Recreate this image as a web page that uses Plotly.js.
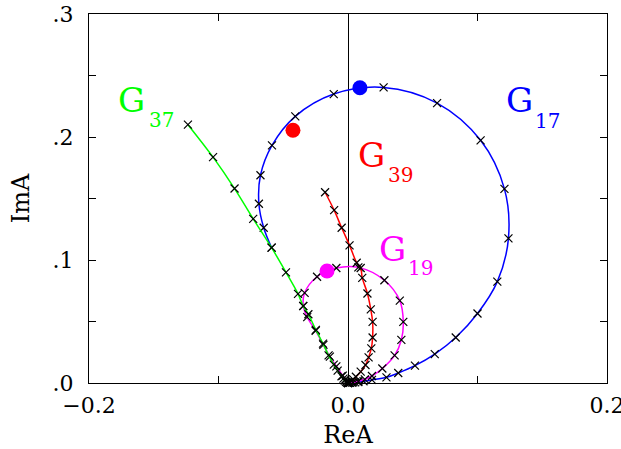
<!DOCTYPE html>
<html>
<head>
<meta charset="utf-8">
<script src="https://cdn.plot.ly/plotly-3.0.1.min.js"></script>
<style>html,body{margin:0;padding:0;background:#fff;}</style>
</head>
<body>
<div id="chart" style="width:621px;height:449px;"></div>
<script>
// G17 (blue) loop
const g17_re = [0.001, 0.003, 0.0055, 0.008, 0.012, 0.0185, 0.0297, 0.0388, 0.0517, 0.0670, 0.0832, 0.1000, 0.1153, 0.1239, 0.1208, 0.1024, 0.0688, 0.0275, -0.0110, -0.0407, -0.0587, -0.0676, -0.0688, -0.0651, -0.0590];
const g17_im = [0.0001, 0.0003, 0.0005, 0.0008, 0.0014, 0.0025, 0.0046, 0.0081, 0.0141, 0.0235, 0.0370, 0.0565, 0.0824, 0.1176, 0.1578, 0.1973, 0.2276, 0.2403, 0.2349, 0.2168, 0.1932, 0.1689, 0.1457, 0.1262, 0.1100];
// G37 (green)
const g37_re = [-0.1236, -0.1042, -0.0876, -0.0732, -0.0590, -0.0479, -0.0386, -0.0346, -0.0306, -0.0248, -0.0193, -0.0150, -0.0110, -0.0080, -0.0050, -0.0035, -0.0025, -0.0015, -0.0007, 0.0];
const g37_im = [0.2100, 0.1836, 0.1581, 0.1335, 0.1100, 0.0900, 0.0725, 0.0627, 0.0559, 0.0432, 0.0320, 0.0225, 0.0150, 0.0100, 0.0055, 0.0035, 0.0020, 0.0010, 0.0004, 0.0];
// G19 (magenta)
const g19_re = [0.0, -0.002, -0.004, -0.009, -0.014, -0.019, -0.025, -0.0315, -0.0345, -0.0335, -0.0239, -0.0090, 0.0080, 0.0281, 0.0400, 0.0427, 0.0412, 0.0360, 0.0265, 0.0185, 0.013, 0.008, 0.004, 0.0015];
const g19_im = [0.0, 0.003, 0.006, 0.0135, 0.0215, 0.031, 0.0425, 0.0535, 0.0625, 0.0733, 0.0864, 0.0935, 0.0940, 0.0835, 0.0670, 0.0497, 0.0350, 0.0225, 0.0118, 0.0057, 0.003, 0.0015, 0.0005, 0.0001];
// G39 (red)
const g39_re = [-0.0177, -0.0107, -0.0049, 0.0012, 0.0067, 0.0098, 0.0110, 0.0150, 0.0176, 0.0190, 0.0190, 0.0180, 0.0159, 0.0135, 0.0098, 0.0061, 0.0040, 0.0025, 0.0012, 0.0];
const g39_im = [0.1551, 0.1405, 0.1262, 0.1119, 0.0978, 0.0935, 0.0855, 0.0728, 0.0598, 0.0497, 0.0370, 0.0281, 0.0208, 0.0146, 0.0092, 0.0051, 0.0030, 0.0016, 0.0006, 0.0];
// highlighted points
const dot_re = [0.0092, -0.0425, -0.0162];
const dot_im = [0.2400, 0.2055, 0.0910];
const dot_colors = ['#0000ff', '#ff0000', '#ff00ff'];
// tick labels
const xTickVals = [-0.2, -0.1, 0, 0.1, 0.2];
const xTickText = ['\u22120.2', '', '0.0', '', '0.2'];
const yTickVals = [0, 0.05, 0.1, 0.15, 0.2, 0.25, 0.3];
const yTickText = ['.0', '', '.1', '', '.2', '', '.3'];

function curve(xs, ys, color) {
  return {
    x: xs, y: ys, type: 'scatter', mode: 'lines+markers',
    line: {color: color, width: 1.5, shape: 'spline', smoothing: 1},
    marker: {symbol: 'x-thin', size: 8, color: 'black', line: {color: 'black', width: 1.2}},
    hoverinfo: 'skip', showlegend: false, cliponaxis: false
  };
}

const traces = [
  curve(g17_re, g17_im, '#0000ff'),
  curve(g19_re, g19_im, '#ff00ff'),
  curve(g39_re, g39_im, '#ff0000'),
  curve(g37_re, g37_im, '#00ff00'),
  {x: dot_re, y: dot_im, type: 'scatter', mode: 'markers',
   marker: {size: 15, color: dot_colors}, showlegend: false, hoverinfo: 'skip'}
];

const serif = 'DejaVu Serif, serif';
function lab(text, x, y, size, color) {
  return {text: text, x: x, y: y, xref: 'x', yref: 'y', showarrow: false,
          xanchor: 'center', yanchor: 'middle', font: {family: serif, size: size, color: color}};
}

const layout = {
  width: 621, height: 449,
  margin: {l: 89, r: 14, t: 14, b: 66},
  paper_bgcolor: '#fff', plot_bgcolor: '#fff',
  font: {family: serif, size: 22, color: '#000'},
  xaxis: {
    range: [-0.2, 0.2], tickvals: xTickVals, ticktext: xTickText,
    ticks: 'inside', ticklen: 7, tickcolor: '#000', mirror: 'ticks',
    showline: true, linecolor: '#000', linewidth: 1, showgrid: false,
    zeroline: true, zerolinecolor: '#000', zerolinewidth: 1,
    ticklabeloverflow: 'allow', ticklabelstandoff: 3,
    title: {text: 'ReA', font: {family: serif, size: 24}, standoff: 10},
    tickfont: {family: serif, size: 22}
  },
  yaxis: {
    range: [0, 0.3], tickvals: yTickVals, ticktext: yTickText,
    ticks: 'inside', ticklen: 7, tickcolor: '#000', mirror: 'ticks',
    showline: true, linecolor: '#000', linewidth: 1, showgrid: false,
    zeroline: false, ticklabelstandoff: 10,
    title: {text: 'ImA', font: {family: serif, size: 24}, standoff: 16},
    tickfont: {family: serif, size: 22}
  },
  annotations: [
    lab('G', -0.1668, 0.2302, 34, '#00ff00'),
    lab('37', -0.1444, 0.2139, 20, '#00ff00'),
    lab('G', 0.0185, 0.1854, 34, '#ff0000'),
    lab('39', 0.0402, 0.1695, 20, '#ff0000'),
    lab('G', 0.1328, 0.2302, 34, '#0000ff'),
    lab('17', 0.1537, 0.2131, 20, '#0000ff'),
    lab('G', 0.0340, 0.1088, 34, '#ff00ff'),
    lab('19', 0.0556, 0.0937, 20, '#ff00ff')
  ]
};

Plotly.newPlot('chart', traces, layout, {staticPlot: true, displayModeBar: false});
</script>
</body>
</html>
